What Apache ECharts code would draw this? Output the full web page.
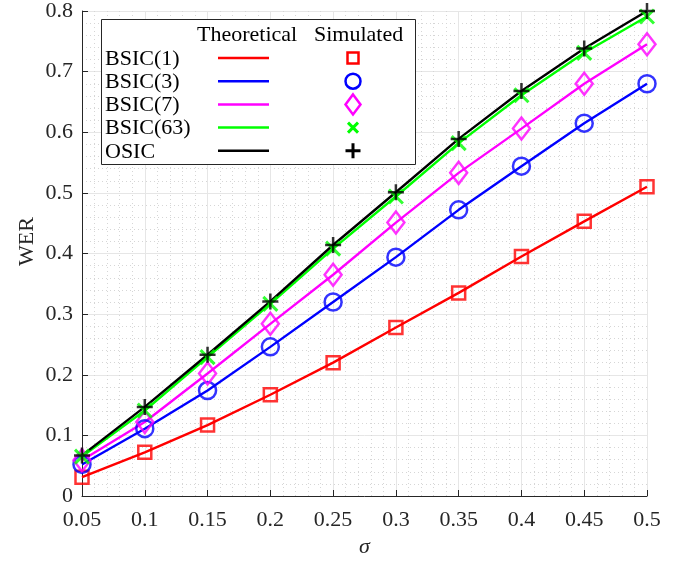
<!DOCTYPE html>
<html>
<head>
<meta charset="utf-8">
<script src="https://cdn.jsdelivr.net/npm/echarts@6/dist/echarts.min.js"></script>
<style>
html,body{margin:0;padding:0;background:#fff;}
#chart{width:684px;height:563px;}
</style>
</head>
<body>
<div id="chart"></div>
<script>
const sigma = [0.05, 0.1, 0.15, 0.2, 0.25, 0.3, 0.35, 0.4, 0.45, 0.5];
const xTicks = ['0.05','0.1','0.15','0.2','0.25','0.3','0.35','0.4','0.45','0.5'];
const yTicks = ['0','0.1','0.2','0.3','0.4','0.5','0.6','0.7','0.8'];
const seriesNames = ['BSIC(1)', 'BSIC(3)', 'BSIC(7)', 'BSIC(63)', 'OSIC'];
const bsic1 = [0.031, 0.072, 0.117, 0.167, 0.220, 0.278, 0.335, 0.395, 0.453, 0.510];
const bsic3 = [0.052, 0.111, 0.174, 0.246, 0.320, 0.394, 0.472, 0.544, 0.615, 0.680];
const bsic7 = [0.059, 0.122, 0.202, 0.284, 0.365, 0.451, 0.533, 0.606, 0.680, 0.745];
const bsic63 = [0.065, 0.141, 0.229, 0.317, 0.408, 0.494, 0.582, 0.661, 0.731, 0.791];
const osic = [0.067, 0.147, 0.233, 0.321, 0.414, 0.501, 0.589, 0.668, 0.738, 0.800];

const allData = [bsic1, bsic3, bsic7, bsic63, osic];
const colors = ['#ff0000', '#0000ff', '#ff00ff', '#00ff00', '#000000'];
const FONT = 'Liberation Serif';
const xPath = 'path://M0,0L10,10M10,0L0,10';
const plusPath = 'path://M5,0L5,10M0,5L10,5';
const symbols = ['rect', 'circle', 'diamond', xPath, plusPath];
const symbolSizes = [13, 17, [17, 22], 14, 16];
const symbolBorders = [2.5, 2.5, 2.5, 3, 2.5];

const chart = echarts.init(document.getElementById('chart'), null, {renderer: 'canvas'});

const series = [];
allData.forEach((d, i) => {
  series.push({
    name: seriesNames[i] + ' theory',
    type: 'line',
    data: sigma.map((s, k) => [s, d[k]]),
    showSymbol: false,
    lineStyle: {color: colors[i], width: 2.4},
    itemStyle: {color: colors[i]},
    z: 2 + i
  });
});
allData.forEach((d, i) => {
  series.push({
    name: seriesNames[i],
    type: 'scatter',
    data: sigma.map((s, k) => [s, d[k]]),
    symbol: symbols[i],
    symbolSize: symbolSizes[i],
    itemStyle: {color: 'transparent', borderColor: colors[i], borderWidth: symbolBorders[i]},
    z: 10 + i
  });
});

// legend graphic
const LX = 101, LY = 19, LW = 314, LH = 145;
const rowY0 = 58, rowDY = 23.2;
const mx = 353;
const graphics = [
  {type: 'rect', shape: {x: LX + 0.5, y: LY + 0.5, width: LW, height: LH}, style: {fill: '#fff', stroke: '#262626', lineWidth: 1}, z: 100},
  {type: 'text', x: 197, y: 35, style: {text: 'Theoretical', font: '22px "' + FONT + '"', fill: '#000', verticalAlign: 'middle'}, z: 101},
  {type: 'text', x: 314, y: 35, style: {text: 'Simulated', font: '22px "' + FONT + '"', fill: '#000', verticalAlign: 'middle'}, z: 101}
];
seriesNames.forEach((n, i) => {
  const y = rowY0 + i * rowDY;
  graphics.push({type: 'text', x: 105, y: y + 1, style: {text: n, font: '22px "' + FONT + '"', fill: '#000', verticalAlign: 'middle'}, z: 101});
  graphics.push({type: 'line', shape: {x1: 218, y1: y, x2: 269, y2: y}, style: {stroke: colors[i], lineWidth: 2.5}, z: 101});
  let m;
  const st = {fill: 'none', stroke: colors[i], lineWidth: 2.5};
  if (i === 0) m = {type: 'rect', shape: {x: mx - 5.5, y: y - 5.5, width: 11, height: 11}, style: st};
  else if (i === 1) m = {type: 'circle', shape: {cx: mx, cy: y, r: 7.5}, style: st};
  else if (i === 2) m = {type: 'polygon', shape: {points: [[mx, y - 10], [mx + 7.5, y], [mx, y + 10], [mx - 7.5, y]]}, style: st};
  else if (i === 3) m = {type: 'polyline', shape: {points: [[mx - 5, y - 5], [mx + 5, y + 5], [mx, y], [mx + 5, y - 5], [mx - 5, y + 5]]}, style: {fill: 'none', stroke: colors[i], lineWidth: 3}};
  else m = {type: 'polyline', shape: {points: [[mx, y - 7.5], [mx, y + 7.5], [mx, y], [mx - 7.5, y], [mx + 7.5, y]]}, style: {fill: 'none', stroke: colors[i], lineWidth: 3}};
  m.z = 101;
  graphics.push(m);
});

const axisText = {fontFamily: FONT, fontSize: 22, color: '#262626'};
const option = {
  animation: false,
  backgroundColor: '#fff',
  grid: {left: 82, right: 37, top: 10, bottom: 67, show: false},
  xAxis: {
    type: 'value', min: 0.05, max: 0.5, interval: 0.05,
    name: 'σ', nameLocation: 'middle', nameGap: 40, nameMoveOverlap: false,
    nameTextStyle: {fontFamily: FONT, fontStyle: 'italic', fontSize: 22, color: '#262626'},
    axisLine: {show: true, onZero: false, lineStyle: {color: '#262626', width: 1}},
    axisTick: {show: true, inside: true, length: 6, lineStyle: {color: '#262626'}},
    axisLabel: Object.assign({margin: 13, formatter: (v) => xTicks[Math.round(v / 0.05) - 1]}, axisText),
    splitLine: {show: true, lineStyle: {color: '#e6e6e6', width: 1}},
    minorTick: {show: false, splitNumber: 5},
    minorSplitLine: {show: true, lineStyle: {color: '#d6d6d6', width: 1, type: [1, 3]}}
  },
  yAxis: {
    type: 'value', min: 0, max: 0.8, interval: 0.1,
    name: 'WER', nameLocation: 'middle', nameGap: 44, nameMoveOverlap: false,
    nameTextStyle: {fontFamily: FONT, fontSize: 22, color: '#262626', padding: [0, 0, 0, 24]},
    axisLine: {show: true, onZero: false, lineStyle: {color: '#262626', width: 1}},
    axisTick: {show: true, inside: true, length: 6, lineStyle: {color: '#262626'}},
    axisLabel: Object.assign({margin: 9, formatter: (v) => yTicks[Math.round(v / 0.1)]}, axisText),
    splitLine: {show: true, lineStyle: {color: '#e6e6e6', width: 1}},
    minorTick: {show: false, splitNumber: 5},
    minorSplitLine: {show: true, lineStyle: {color: '#d6d6d6', width: 1, type: [1, 3]}}
  },
  series: series,
  graphic: graphics
};
chart.setOption(option);
</script>
</body>
</html>
